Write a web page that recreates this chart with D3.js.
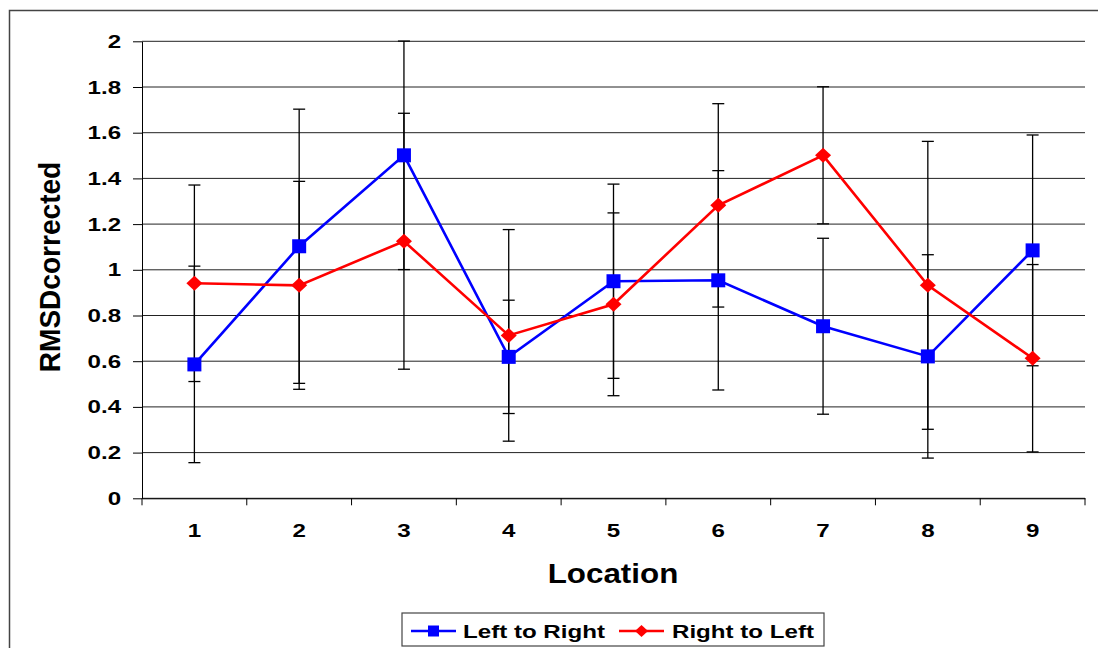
<!DOCTYPE html>
<html>
<head>
<meta charset="utf-8">
<script src="https://cdn.jsdelivr.net/npm/d3@7"></script>
<style>
  body { margin: 0; background: #fff; }
  svg { display: block; }
  text { font-family: "Liberation Sans", Arial, sans-serif; font-weight: bold; fill: #000; }
</style>
</head>
<body>
<svg id="chart" width="1098" height="648"></svg>
<script>
// data
const categories = ["1", "2", "3", "4", "5", "6", "7", "8", "9"];
const yTickValues = [0, 0.2, 0.4, 0.6, 0.8, 1, 1.2, 1.4, 1.6, 1.8, 2];
const leftToRight = [0.586, 1.103, 1.501, 0.619, 0.950, 0.954, 0.753, 0.621, 1.085];
const leftToRightErr = [0.43, 0.60, 0.50, 0.248, 0.425, 0.48, 0.385, 0.445, 0.505];
const rightToLeft = [0.941, 0.932, 1.125, 0.713, 0.849, 1.282, 1.501, 0.932, 0.613];
const rightToLeftErr = [0.43, 0.455, 0.56, 0.463, 0.40, 0.445, 0.30, 0.63, 0.41];
const seriesNames = ["Left to Right", "Right to Left"];
const seriesColors = ["#0000ff", "#ff0000"];

const stretch = 1.27; // text in the reference is drawn wide

const svg = d3.select("#chart");
const margin = { left: 142, right: 1085, top: 41.3, bottom: 498.3 };

const x = d3.scaleBand().domain(categories).range([margin.left, margin.right]);
const y = d3.scaleLinear().domain([0, 2]).range([margin.bottom, margin.top]);

// outer chart border
svg.append("rect")
  .attr("x", 9.5).attr("y", 10.5)
  .attr("width", 1200).attr("height", 800)
  .attr("fill", "#fff")
  .attr("stroke", "#444")
  .attr("stroke-width", 1.5);

// gridlines
svg.append("g")
  .selectAll("line")
  .data(yTickValues)
  .join("line")
  .attr("x1", margin.left).attr("x2", margin.right)
  .attr("y1", (d) => y(d)).attr("y2", (d) => y(d))
  .attr("stroke", "#222")
  .attr("stroke-width", 1);

// y axis
const yAxis = svg.append("g")
  .attr("transform", `translate(${margin.left},0)`)
  .call(d3.axisLeft(y).tickValues(yTickValues).tickFormat(d3.format("")).tickSizeInner(9).tickSizeOuter(0).tickPadding(7.5));
yAxis.select(".domain").attr("stroke", "#000");
yAxis.selectAll(".tick line").attr("stroke", "#000");
yAxis.selectAll("text")
  .attr("font-size", 19)
  .attr("font-family", null)
  .attr("transform", `scale(${stretch},1)`);

// x axis labels
const xAxis = svg.append("g")
  .attr("transform", `translate(0,${margin.bottom})`)
  .call(d3.axisBottom(x).tickSize(0).tickPadding(25));
xAxis.select(".domain").attr("stroke", "#000");
xAxis.selectAll("text")
  .attr("font-size", 19)
  .attr("font-family", null)
  .attr("transform", `scale(${stretch},1)`);

// x tick marks sit between categories
const boundaries = categories.map((c) => x(c)).concat([x.range()[1]]);
svg.append("g")
  .selectAll("line")
  .data(boundaries)
  .join("line")
  .attr("x1", (d) => d).attr("x2", (d) => d)
  .attr("y1", margin.bottom).attr("y2", margin.bottom + 7)
  .attr("stroke", "#000");

// error bars
const cx = (i) => x(categories[i]) + x.bandwidth() / 2;
const errData = [];
leftToRight.forEach((v, i) => errData.push({ i, v, e: leftToRightErr[i] }));
rightToLeft.forEach((v, i) => errData.push({ i, v, e: rightToLeftErr[i] }));

const errG = svg.append("g").attr("stroke", "#000").attr("stroke-width", 1.3);
errData.forEach((d) => {
  const xx = cx(d.i);
  errG.append("line")
    .attr("x1", xx).attr("x2", xx)
    .attr("y1", y(d.v - d.e)).attr("y2", y(d.v + d.e));
  [d.v - d.e, d.v + d.e].forEach((end) => {
    errG.append("line")
      .attr("x1", xx - 6).attr("x2", xx + 6)
      .attr("y1", y(end)).attr("y2", y(end));
  });
});

// series lines and markers
const line = d3.line().x((d, i) => cx(i)).y((d) => y(d));

function drawSquare(g, px, py, size, color) {
  g.append("rect")
    .attr("x", px - size / 2).attr("y", py - size / 2)
    .attr("width", size).attr("height", size)
    .attr("fill", color);
}

function drawDiamond(g, px, py, w, h, color) {
  g.append("path")
    .attr("d", `M${px},${py - h / 2} L${px + w / 2},${py} L${px},${py + h / 2} L${px - w / 2},${py} Z`)
    .attr("fill", color);
}

const blueG = svg.append("g");
blueG.append("path")
  .datum(leftToRight)
  .attr("d", line)
  .attr("fill", "none")
  .attr("stroke", seriesColors[0])
  .attr("stroke-width", 2.6);
leftToRight.forEach((v, i) => drawSquare(blueG, cx(i), y(v), 14, seriesColors[0]));

const redG = svg.append("g");
redG.append("path")
  .datum(rightToLeft)
  .attr("d", line)
  .attr("fill", "none")
  .attr("stroke", seriesColors[1])
  .attr("stroke-width", 2.6);
rightToLeft.forEach((v, i) => drawDiamond(redG, cx(i), y(v), 16, 15, seriesColors[1]));

// axis titles
svg.append("text")
  .attr("transform", "translate(613,582.5) scale(1.14,1)")
  .attr("text-anchor", "middle")
  .attr("font-size", 27.5)
  .text("Location");

svg.append("text")
  .attr("transform", "translate(60,267) rotate(-90) scale(1.04,1.12)")
  .attr("text-anchor", "middle")
  .attr("font-size", 27)
  .text("RMSDcorrected");

// legend
const legend = svg.append("g");
legend.append("rect")
  .attr("x", 402).attr("y", 613)
  .attr("width", 422).attr("height", 33)
  .attr("fill", "#fff")
  .attr("stroke", "#444")
  .attr("stroke-width", 1.2);

const legendItems = [
  { x1: 411, x2: 456, tx: 463 },
  { x1: 619, x2: 664, tx: 672 },
];
legendItems.forEach((it, k) => {
  const ly = 631;
  legend.append("line")
    .attr("x1", it.x1).attr("x2", it.x2)
    .attr("y1", ly).attr("y2", ly)
    .attr("stroke", seriesColors[k])
    .attr("stroke-width", 2.6);
  const mx = (it.x1 + it.x2) / 2;
  if (k === 0) drawSquare(legend, mx, ly, 11, seriesColors[k]);
  else drawDiamond(legend, mx, ly, 13, 12, seriesColors[k]);
  legend.append("text")
    .attr("transform", `translate(${it.tx},${ly + 7}) scale(${stretch},1)`)
    .attr("font-size", 19)
    .text(seriesNames[k]);
});
</script>
</body>
</html>
